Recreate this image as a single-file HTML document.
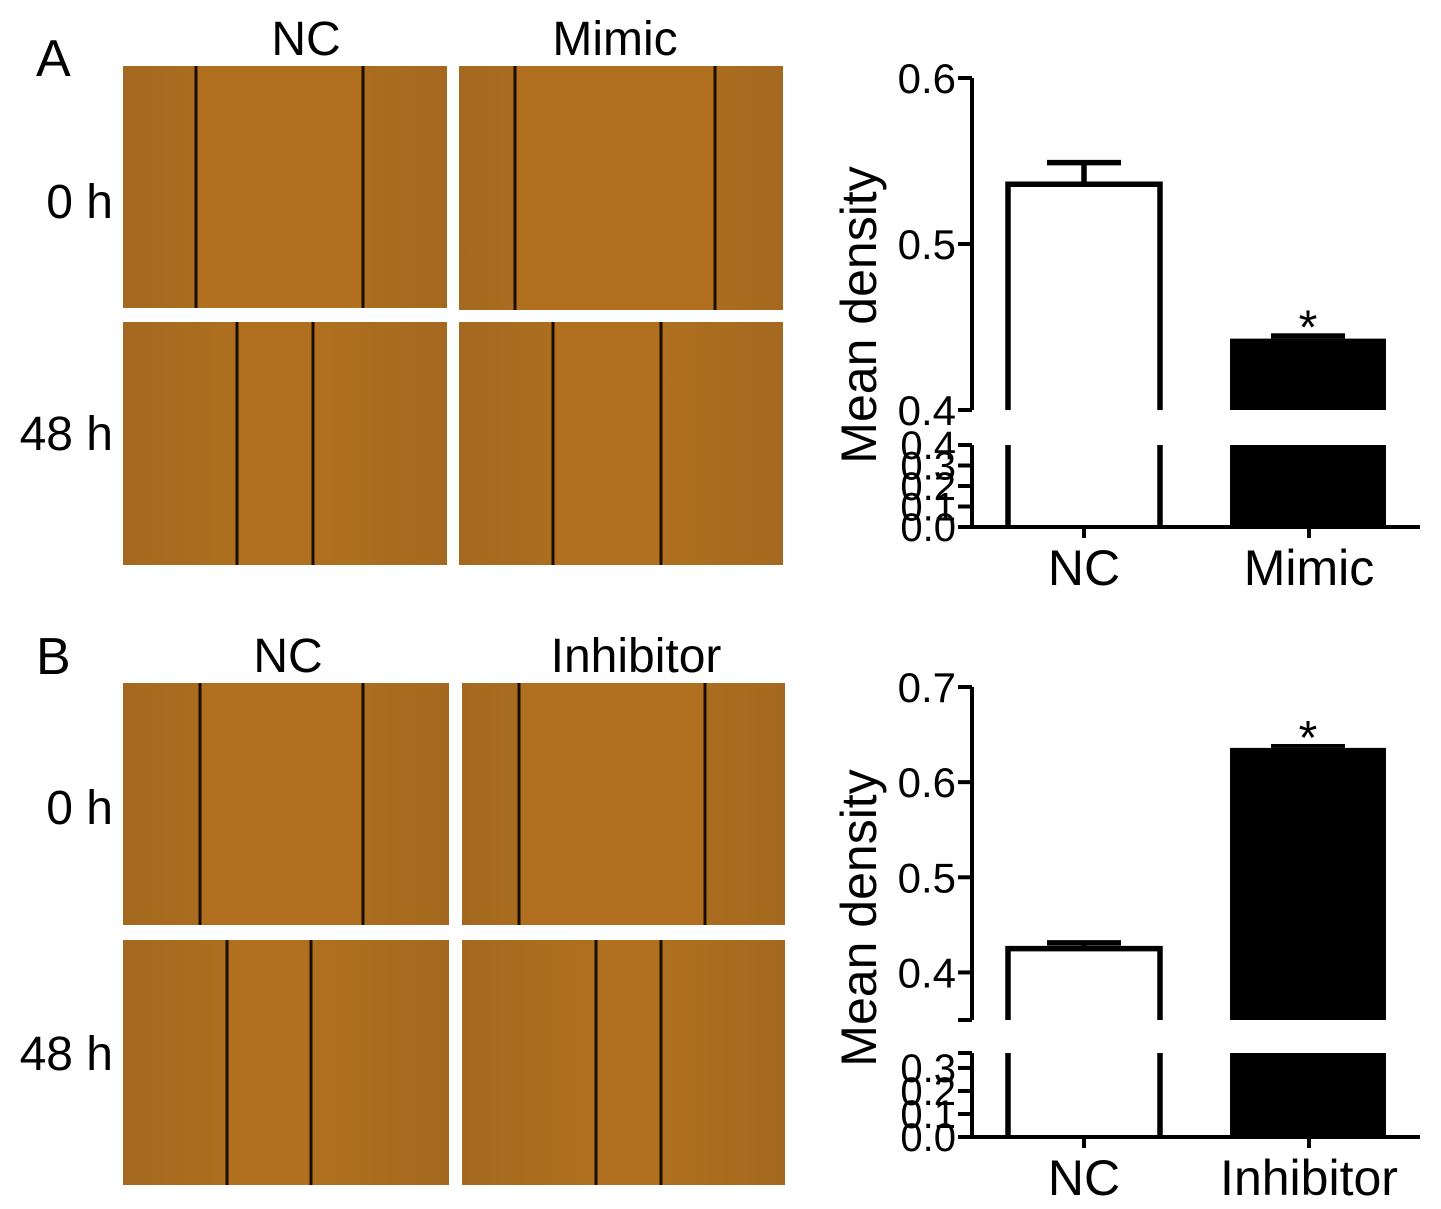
<!DOCTYPE html>
<html><head><meta charset="utf-8"><style>
html,body{margin:0;padding:0;background:#fff}
svg{display:block}
text{font-family:"Liberation Sans",sans-serif;fill:#000}
</style></head><body>
<svg id="fig" width="1441" height="1209" viewBox="0 0 1441 1209" xmlns="http://www.w3.org/2000/svg">
<text x="36" y="76" font-size="52">A</text>
<text x="36" y="674" font-size="52">B</text>
<text x="306" y="55" font-size="48" text-anchor="middle">NC</text>
<text x="615" y="55" font-size="48" text-anchor="middle">Mimic</text>
<text x="288" y="672" font-size="48" text-anchor="middle">NC</text>
<text x="636" y="672" font-size="48" text-anchor="middle">Inhibitor</text>
<text x="113" y="218" font-size="48" text-anchor="end">0 h</text>
<text x="113" y="450" font-size="48" text-anchor="end">48 h</text>
<text x="113" y="824" font-size="48" text-anchor="end">0 h</text>
<text x="113" y="1070" font-size="48" text-anchor="end">48 h</text>
<g id="photos"></g>
<g id="chartA"></g>
<g id="chartB"></g>
</svg>
<script>
const NS="http://www.w3.org/2000/svg";
function mk(p,tag,attrs){const e=document.createElementNS(NS,tag);for(const k in attrs)e.setAttribute(k,attrs[k]);p.appendChild(e);return e;}

const photos=document.getElementById('photos');
const defs=mk(photos,'defs',{});
const lg=mk(defs,'linearGradient',{id:'pg',x1:'0',x2:'1',y1:'0',y2:'0'});
mk(lg,'stop',{offset:'0','stop-color':'#a4691f'});
mk(lg,'stop',{offset:'0.5','stop-color':'#b2711f'});
mk(lg,'stop',{offset:'1','stop-color':'#a4691f'});
const panels=[
 {n:'photo-nc-0h-a',x:123,y:66,w:324,h:242,l:[196,363]},
 {n:'photo-mimic-0h',x:459,y:66,w:324,h:244,l:[515,715]},
 {n:'photo-nc-48h-a',x:123,y:322,w:324,h:243,l:[237,313]},
 {n:'photo-mimic-48h',x:459,y:322,w:324,h:243,l:[553,661]},
 {n:'photo-nc-0h-b',x:123,y:683,w:326,h:242,l:[200,363]},
 {n:'photo-inhibitor-0h',x:462,y:683,w:323,h:242,l:[519,705]},
 {n:'photo-nc-48h-b',x:123,y:940,w:326,h:245,l:[227,311]},
 {n:'photo-inhibitor-48h',x:462,y:940,w:323,h:245,l:[596,661]}
];
panels.forEach(p=>{
 const g=mk(photos,'g',{});
 
 
 mk(g,'rect',{x:p.x,y:p.y,width:p.w,height:p.h,fill:'url(#pg)'});
 mk(g,'rect',{x:p.l[0],y:p.y,width:p.l[1]-p.l[0],height:p.h,fill:'#b0701f'});
 p.l.forEach(x=>mk(g,'line',{x1:x,x2:x,y1:p.y,y2:p.y+p.h,stroke:'#1a0e04','stroke-width':3}));
});

// ---- chart data ----
const catsA=['NC','Mimic'];
const valsA=[0.536,0.443];
const errA=[0.013,0.002];
const upperTicksA=['0.4','0.5','0.6'];
const lowerTicksA=['0.0','0.1','0.2','0.3','0.4'];
const catsB=['NC','Inhibitor'];
const valsB=[0.425,0.636];
const errB=[0.006,0.002];
const upperTicksB=['0.4','0.5','0.6','0.7'];
const lowerTicksB=['0.0','0.1','0.2','0.3'];

function drawChart(g,cfg,cats,vals,errs,upT,loT){
 const yU=v=>cfg.uTop+(cfg.uMax-v)/(cfg.uMax-cfg.uMin)*(cfg.uBot-cfg.uTop);
 const yL=v=>cfg.lBot-(v/cfg.lMax)*(cfg.lBot-cfg.lTop);
 const ax=972, sw=4;
 const ya=mk(g,'path',{d:`M${ax} ${cfg.uTop}V${cfg.uBot}M${ax} ${cfg.lTop}V${cfg.lBot}`,stroke:'#000','stroke-width':sw,fill:'none'});
 
 
 const xa=mk(g,'line',{x1:958,x2:1420,y1:cfg.lBot,y2:cfg.lBot,stroke:'#000','stroke-width':sw});
 
 
 upT.forEach(t=>{const y=yU(+t);
  mk(g,'line',{x1:ax-14,x2:ax,y1:y,y2:y,stroke:'#000','stroke-width':sw});
  const tx=mk(g,'text',{x:ax-16,y:y+15,'font-size':42,'text-anchor':'end'});tx.textContent=t;
  
  });
 mk(g,'line',{x1:ax-14,x2:ax,y1:cfg.uBot,y2:cfg.uBot,stroke:'#000','stroke-width':sw});
 mk(g,'line',{x1:ax-14,x2:ax,y1:cfg.lTop,y2:cfg.lTop,stroke:'#000','stroke-width':sw});
 loT.forEach(t=>{const y=yL(+t);
  mk(g,'line',{x1:ax-14,x2:ax,y1:y,y2:y,stroke:'#000','stroke-width':sw});
  const tx=mk(g,'text',{x:ax-16,y:y+14,'font-size':40,'text-anchor':'end'});tx.textContent=t;
  
  });
 const title=mk(g,'text',{x:0,y:0,'font-size':50,'text-anchor':'middle',transform:`translate(876 ${cfg.titleY}) rotate(-90)`});
 title.textContent='Mean density';
 
 
 const lefts=[1008,1232], bw=152;
 cats.forEach((c,i)=>{
  const x0=lefts[i], xc=x0+bw/2, v=vals[i], top=yU(v), et=yU(v+errs[i]);
  const bg=mk(g,'g',{});
  
  
  if(i===0){
   mk(bg,'path',{d:`M${x0} ${cfg.uBot}V${top}H${x0+bw}V${cfg.uBot}M${x0} ${cfg.lTop}V${cfg.lBot}M${x0+bw} ${cfg.lTop}V${cfg.lBot}`,stroke:'#000','stroke-width':5.5,fill:'none'});
   mk(bg,'line',{x1:xc,x2:xc,y1:top,y2:et,stroke:'#000','stroke-width':5.5});
   mk(bg,'line',{x1:xc-37,x2:xc+37,y1:et,y2:et,stroke:'#000','stroke-width':5.5});
  } else {
   mk(bg,'rect',{x:x0-2,y:top,width:bw+4,height:cfg.uBot-top,fill:'#000'});
   mk(bg,'rect',{x:x0-2,y:cfg.lTop,width:bw+4,height:cfg.lBot-cfg.lTop,fill:'#000'});
   mk(bg,'rect',{x:xc-37,y:et-2,width:74,height:top-et+2,fill:'#000'});
   const st=mk(g,'text',{x:xc,y:et+8,'font-size':48,'text-anchor':'middle'});st.textContent='*';
   
   
  }
  const tk=[1084,1309][i];
  mk(g,'line',{x1:tk,x2:tk,y1:cfg.lBot,y2:cfg.lBot+11,stroke:'#000','stroke-width':sw});
  const lb=mk(g,'text',{x:tk,y:cfg.lBot+58,'font-size':50,'text-anchor':'middle'});lb.textContent=c;
  
  
 });
}
drawChart(document.getElementById('chartA'),{uTop:78,uBot:410,uMin:0.4,uMax:0.6,lTop:445,lBot:527,lMax:0.4,titleY:315},catsA,valsA,errA,upperTicksA,lowerTicksA);
drawChart(document.getElementById('chartB'),{uTop:687,uBot:1020,uMin:0.35,uMax:0.7,lTop:1053,lBot:1137,lMax:0.365,titleY:918},catsB,valsB,errB,upperTicksB,lowerTicksB);
</script>
</body></html>
